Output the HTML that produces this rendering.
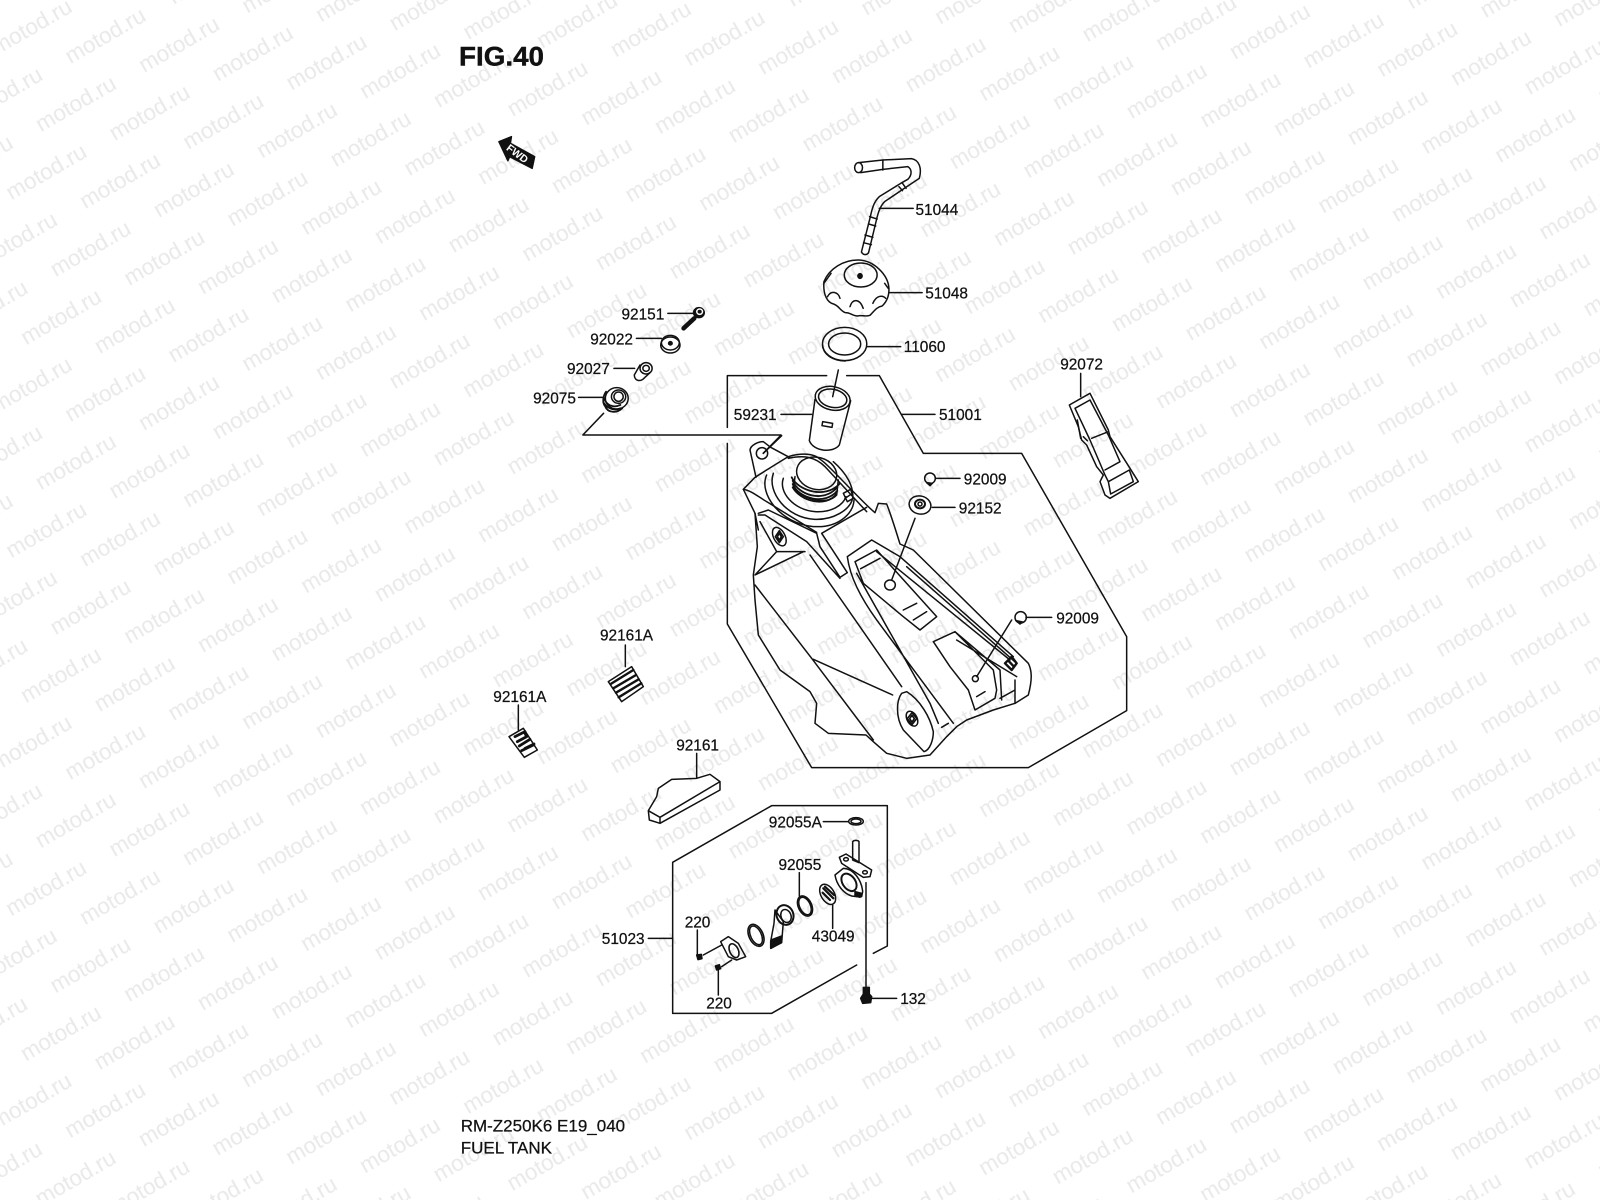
<!DOCTYPE html>
<html><head><meta charset="utf-8"><title>FIG.40</title>
<style>
html,body{margin:0;padding:0;background:#fff;width:1600px;height:1200px;overflow:hidden}
svg{display:block}
.d *{vector-effect:non-scaling-stroke}
.d{fill:none;stroke:#111;stroke-width:1.5;stroke-linejoin:round;stroke-linecap:round}
.l text{font-family:"Liberation Sans",sans-serif;font-size:15.4px;fill:#111;stroke:#111;stroke-width:.25}
.f{fill:#111;stroke:#111}
</style></head><body>
<svg xmlns="http://www.w3.org/2000/svg" width="1600" height="1200" viewBox="0 0 1600 1200">
<defs>
<pattern id="wm" patternUnits="userSpaceOnUse" width="100" height="100" patternTransform="matrix(.737 .088 -.295 .681 1247.9 -6.75)">
<g transform="translate(50 50) matrix(1.2901 -.1667 .5589 1.3962 0 0) rotate(-30)">
<text x="0" y="7" text-anchor="middle" font-family="Liberation Sans, sans-serif" font-size="22.5" fill="#e9e9e9">motod.ru</text>
</g>
</pattern>
</defs>
<rect width="1600" height="1200" fill="#fff"/>
<rect width="1600" height="1200" fill="url(#wm)"/>

<!-- zoom-1 space -->
<g class="d" transform="translate(440 20) scale(.35714 .33333)">
<!-- FWD arrow -->
<path class="f" d="M165 365 L200 350 L197 370 L265 410 L258 445 L195 410 L190 422 Z"/>
<!-- hose 51044 -->
<ellipse cx="1172" cy="443" rx="11" ry="15"/>
<path d="M1172 428 L1240 420 L1320 416 C1342 420 1350 445 1342 475 L1300 505 L1245 545 C1232 558 1226 580 1222 600 L1200 698 C1195 706 1185 706 1180 696 L1205 590 C1210 565 1215 545 1230 530 L1290 490 L1310 478 C1322 465 1322 448 1310 440 L1240 448 L1178 458"/>
<path d="M1240 420 L1240 450 M1295 490 L1305 505 M1285 500 L1295 512 M1203 590 L1224 597 M1200 612 L1220 618 M1190 645 L1212 652 M1186 668 L1208 674"/>
<!-- cap 51048 -->
<path d="M1075 785 C1090 745 1130 720 1170 720 C1215 720 1255 765 1257 805 C1258 830 1248 848 1238 858 C1225 860 1218 870 1205 885 C1195 892 1178 884 1170 888 C1155 888 1150 878 1135 878 C1120 872 1118 858 1102 852 C1085 848 1072 825 1075 785 Z"/>
<ellipse cx="1178" cy="765" rx="46" ry="36"/>
<ellipse class="f" cx="1176" cy="768" rx="6" ry="7"/>
<path d="M1085 830 C1095 810 1115 815 1120 835 M1148 860 C1155 835 1175 835 1185 865 M1212 850 C1222 825 1240 825 1248 835 M1075 790 L1095 760 M1245 790 L1255 805"/>
<!-- gasket 11060 -->
<ellipse cx="1133" cy="972" rx="62" ry="50"/>
<ellipse cx="1133" cy="972" rx="45" ry="33"/>
<path d="M1071 975 C1073 1005 1100 1022 1135 1023"/>
<!-- leaders -->
<path d="M1230 565 L1325 565 M1258 818 L1350 818 M1195 980 L1290 980 M638 880 L715 880 M550 955 L620 955 M487 1045 L545 1045 M388 1132 L458 1132 M458 1180 L400 1245 L955 1245 L905 1300"/>
<!-- bolt 92151 -->
<ellipse class="f" cx="725" cy="878" rx="15" ry="15"/>
<ellipse cx="727" cy="875" rx="8" ry="8" style="stroke:#fff"/>
<path d="M712 895 L682 925" style="stroke-width:4.5"/>
<!-- washer 92022 -->
<ellipse cx="645" cy="975" rx="27" ry="24"/>
<ellipse cx="645" cy="968" rx="25" ry="22"/>
<ellipse class="f" cx="645" cy="970" rx="5" ry="5"/>
<!-- sleeve 92027 -->
<ellipse cx="577" cy="1045" rx="17" ry="17"/>
<ellipse cx="577" cy="1045" rx="9" ry="9"/>
<path d="M560 1035 L544 1065 C545 1082 558 1085 568 1078 L588 1058"/>
<!-- grommet 92075 -->
<ellipse cx="495" cy="1135" rx="32" ry="32"/>
<ellipse cx="500" cy="1130" rx="20" ry="20"/>
<ellipse cx="500" cy="1130" rx="13" ry="14"/>
<path d="M465 1115 C455 1130 455 1150 462 1158 C470 1180 495 1180 510 1165 M460 1135 C465 1155 485 1165 505 1155 M458 1148 C470 1168 490 1172 505 1165" style="stroke-width:1.8"/>
</g>
<g transform="translate(517.5 153.5) rotate(37)"><text x="0" y="3.8" text-anchor="middle" font-family="Liberation Sans, sans-serif" font-weight="bold" font-size="10.5" fill="#fff">FWD</text></g>

<!-- zoom-2 space: tank -->
<g class="d" transform="translate(700 370) scale(.33333)">
<path d="M380 17 L82 17 L82 172 M82 220 L82 762 L335 1193 L985 1193 L1280 1022 L1280 800 L965 250 L670 250 L538 17 L440 17"/>
<path d="M415 0 L398 80 M243 133 L335 133 M605 133 L705 133 M708 325 L780 325 M697 412 L765 412 M978 742 L1055 742 M575 630 L645 445 M830 920 L935 750 M245 197 L190 250"/>
<!-- filler neck 59231 -->
<ellipse cx="398" cy="85" rx="53" ry="35" transform="rotate(12 398 85)"/>
<ellipse cx="398" cy="85" rx="43" ry="27" transform="rotate(12 398 85)"/>
<path d="M345 88 L328 212 C340 245 400 250 418 225 L452 92"/>
<path d="M368 155 L398 160 L396 172 L366 167 Z"/>
<!-- small parts -->
<circle cx="690" cy="325" r="16"/><path class="f" d="M680 338 L690 347 L697 340 Z"/>
<ellipse cx="660" cy="405" rx="33" ry="27" transform="rotate(15 660 405)"/>
<ellipse cx="660" cy="402" rx="15" ry="13" style="stroke-width:2"/>
<circle cx="660" cy="402" r="6"/>
<circle cx="962" cy="742" r="17"/><path class="f" d="M948 752 L960 762 L968 756 Z"/>
<!-- tab -->
<path d="M168 322 L150 240 C152 225 175 215 190 215 L212 232 L268 262"/>
<circle cx="186" cy="250" r="17"/>
<!-- outline -->
<path d="M130 358 L165 322 C200 300 240 275 265 260 C290 252 325 248 350 260 L370 275 C400 300 490 400 525 428 L535 400 L560 402 C575 440 590 490 600 522 L640 540 L985 880 C995 900 998 925 985 975 L945 1000 L880 1020 L800 1050 L770 1070 L740 1100 L690 1155 L620 1165 L560 1150 L520 1115 L498 1095 L385 1090 L345 1060 L350 1000 L330 965 L240 900 L175 795 L165 690 L160 615 L172 530 L165 430 Z"/>
<path d="M130 358 C150 360 175 380 200 395 L350 487 M165 430 L175 480"/>
<!-- neck rings -->
<ellipse cx="350" cy="310" rx="61" ry="48" transform="rotate(15 350 310)"/>
<path d="M285 320 L282 345 C290 385 380 410 410 375 L415 330"/>
<path d="M278 332 C295 375 370 400 412 352 M278 342 C295 385 375 408 412 362 M278 352 C300 392 375 415 410 372 M275 322 C295 362 375 388 418 342" style="stroke-width:1.8"/>
<path d="M220 310 C200 365 260 445 345 448 C400 450 450 420 458 385 C462 350 440 310 400 275"/>
<path d="M250 325 C235 365 280 420 345 425 C395 428 430 405 438 380"/>
<path d="M200 315 C175 370 240 460 340 470 L365 470 C420 465 460 430 462 390 M265 265 C310 255 345 260 375 290 L500 425"/>
<path d="M430 370 L452 358 L460 385 L442 395 Z M435 385 L450 375"/>
<!-- left panels -->
<path d="M175 430 L205 420 L350 490 L360 530 L420 622 L442 608 L365 490 L500 412 M175 435 L195 435 L320 515 L420 625"/>
<path d="M180 455 L230 545 L165 615 L310 545 M230 545 L315 545 M330 555 L605 950 M165 645 L335 865 L520 1110 M340 868 L578 975"/>
<ellipse cx="238" cy="500" rx="17" ry="30" transform="rotate(-28 238 500)"/>
<path d="M238 482 L250 500 L238 518 L226 500 Z M238 490 L244 500 L238 510 L232 500 Z" style="stroke-width:1.6"/>
<!-- channel and pockets -->
<path d="M442 560 L515 510 L600 560 L940 860 M442 560 C450 620 480 680 530 750 L760 1060 M465 575 L530 540 L710 740 L660 780 L610 740 L490 640 Z M482 596 L540 565 M610 720 L650 700 M640 750 L680 725 M530 545 L930 870 M620 590 L950 880 M470 610 L690 1000 L715 1060"/>
<ellipse cx="570" cy="645" rx="16" ry="15"/>
<path d="M700 815 L765 785 L880 900 L890 960 L885 985 L825 1020 L805 960 L750 890 Z M765 785 L900 900 L905 990 M855 965 L830 980 M945 930 L945 1000 M725 1072 L745 1060 M900 985 L945 960 M770 810 L950 920"/>
<circle cx="826" cy="926" r="9"/>
<path d="M915 880 L935 860 L950 880 L935 900 Z M925 872 L942 890" style="stroke-width:2.4"/>
<!-- lower boss -->
<path d="M605 970 C590 990 585 1040 610 1080 L672 1145 C690 1140 700 1110 700 1085 C690 1040 660 990 620 965 Z"/>
<ellipse cx="636" cy="1046" rx="15" ry="24" transform="rotate(-28 636 1046)"/>
<path d="M636 1028 L650 1046 L636 1064 L622 1046 Z M636 1036 L643 1046 L636 1056 L629 1046 Z" style="stroke-width:1.6"/>
</g>

<!-- zoom-3 space -->
<g class="d" transform="translate(480 620) scale(.33333)">
<path d="M1180 1000 L1222 978 L1222 557 L875 557 L578 727 L578 1180 L875 1180 L1130 1035"/>
<path d="M436 75 L436 140 M115 255 L115 330 M650 400 L650 472 M505 955 L578 955 M1030 605 L1105 605 M958 758 L958 828 M1058 855 L1058 925 M1158 788 L1158 1100 M1175 1135 L1250 1135 M652 930 L652 1005 M670 1005 L725 975 M715 1050 L715 1125 M725 1040 L755 1020"/>
<!-- pad 92161A upper -->
<path d="M385 185 L455 140 L490 200 L425 245 Z"/>
<path d="M392 192 L460 150 M400 205 L468 165 M408 218 L476 178 M416 232 L484 190" style="stroke-width:2.4"/>
<!-- pad lower -->
<path d="M87 350 L130 325 L172 390 L133 412 Z"/>
<path d="M105 350 L135 335 M112 365 L140 350 L135 340 M118 378 L150 358 M125 392 L160 375 M135 385 L162 372" style="stroke-width:2.8"/>
<!-- block 92161 -->
<path d="M505 572 L530 530 L535 505 L575 478 L650 475 L690 463 L720 485 L720 510 L540 610 L508 600 Z M505 572 L540 592 L720 485 M540 592 L540 610"/>
<!-- 92055A -->
<ellipse cx="1128" cy="604" rx="22" ry="11"/><ellipse cx="1128" cy="604" rx="15" ry="7"/>
<!-- rings -->
<ellipse cx="975" cy="858" rx="20" ry="32" transform="rotate(-25 975 858)" style="stroke-width:1.6"/>
<ellipse cx="975" cy="858" rx="16" ry="28" transform="rotate(-25 975 858)"/>
<ellipse cx="828" cy="946" rx="21" ry="35" transform="rotate(-25 828 946)" style="stroke-width:1.6"/>
<ellipse cx="828" cy="946" rx="16" ry="30" transform="rotate(-25 828 946)"/>
<!-- 43049 -->
<ellipse cx="1043" cy="823" rx="20" ry="33" transform="rotate(-30 1043 823)"/>
<path d="M1030 805 L1060 835 M1028 818 L1050 840 M1035 800 L1062 825" style="stroke-width:2.2"/>
<!-- lever -->
<ellipse cx="915" cy="885" rx="25" ry="30" transform="rotate(-20 915 885)" style="stroke-width:2"/>
<ellipse cx="918" cy="888" rx="15" ry="20" transform="rotate(-20 918 888)"/>
<path d="M885 870 L882 910 L872 965 L872 985 L905 968 L910 905 Z"/>
<path class="f" d="M873 960 L905 948 L903 968 L873 985 Z"/>
<!-- front plate -->
<path d="M722 965 L745 950 L775 970 L797 1010 L770 1020 L745 1010 Z"/>
<ellipse cx="762" cy="992" rx="13" ry="22" transform="rotate(-25 762 992)" style="stroke-width:1.6"/>
<!-- screws -->
<path class="f" d="M650 1005 L664 1003 L666 1016 L654 1019 Z"/>
<path class="f" d="M706 1038 L718 1034 L722 1046 L710 1050 Z"/>
<!-- petcock -->
<path d="M1118 665 C1122 660 1134 660 1137 665 L1137 728 L1118 720 Z" />
<path d="M1078 712 L1098 702 L1175 750 L1170 770 L1150 772 L1085 730 Z"/>
<ellipse cx="1098" cy="718" rx="7" ry="5"/><ellipse cx="1155" cy="757" rx="7" ry="5"/>
<path d="M1065 765 L1090 745 C1120 745 1145 780 1148 815 L1145 830 L1130 830 L1115 828 C1090 820 1070 795 1065 765 Z"/>
<ellipse cx="1107" cy="787" rx="19" ry="29" transform="rotate(-35 1107 787)" style="stroke-width:2"/>
<path class="f" d="M1125 815 L1145 820 L1140 832 L1125 828 Z"/>
<!-- bolt 132 -->
<path class="f" d="M1150 1102 L1168 1102 L1168 1122 L1175 1130 L1172 1148 L1148 1150 L1142 1135 L1150 1122 Z"/>
</g>

<!-- zoom-4 strap -->
<g class="d" transform="translate(1040 340) scale(.33333)">
<path d="M122 100 L122 170"/>
<path d="M88 195 L150 160 L205 270 L210 290 L270 385 L295 425 L210 475 L195 465 L180 425 L190 405 L170 380 L140 315 L125 300 L115 260 Z"/>
<path d="M105 205 L150 180 M105 205 L150 300 L195 405 L205 425 M150 180 L205 285 L240 365 M155 295 L205 275 M195 390 L240 365 M112 240 L122 295 M130 290 L142 302 M205 425 L268 390 L280 425 L212 462 Z"/>
</g>

<g class="l">
<text x="459" y="65.7" style="font-size:27px;font-weight:bold;stroke-width:.4" textLength="85" lengthAdjust="spacingAndGlyphs">FIG.40</text>
<text x="915.5" y="215">51044</text>
<text x="925.2" y="298.7">51048</text>
<text x="903.8" y="352">11060</text>
<text x="939" y="420">51001</text>
<text x="733.8" y="420">59231</text>
<text x="621.5" y="319.3">92151</text>
<text x="590.2" y="344.7">92022</text>
<text x="567" y="374">92027</text>
<text x="533.1" y="403.3">92075</text>
<text x="963.8" y="484.3">92009</text>
<text x="958.8" y="513.7">92152</text>
<text x="1056.2" y="623.7">92009</text>
<text x="1060.2" y="369.3">92072</text>
<text x="600" y="640.7">92161A</text>
<text x="493.3" y="702">92161A</text>
<text x="676.2" y="750.7">92161</text>
<text x="768.8" y="827.3">92055A</text>
<text x="778.5" y="870">92055</text>
<text x="811.8" y="941.7">43049</text>
<text x="601.8" y="944">51023</text>
<text x="684.7" y="927.7">220</text>
<text x="706.2" y="1008.3">220</text>
<text x="900.2" y="1004">132</text>
<text x="460.7" y="1131.7" style="font-size:17px">RM-Z250K6 E19_040</text>
<text x="460.7" y="1153.3" style="font-size:17px">FUEL TANK</text>
</g>
</svg>
</body></html>
